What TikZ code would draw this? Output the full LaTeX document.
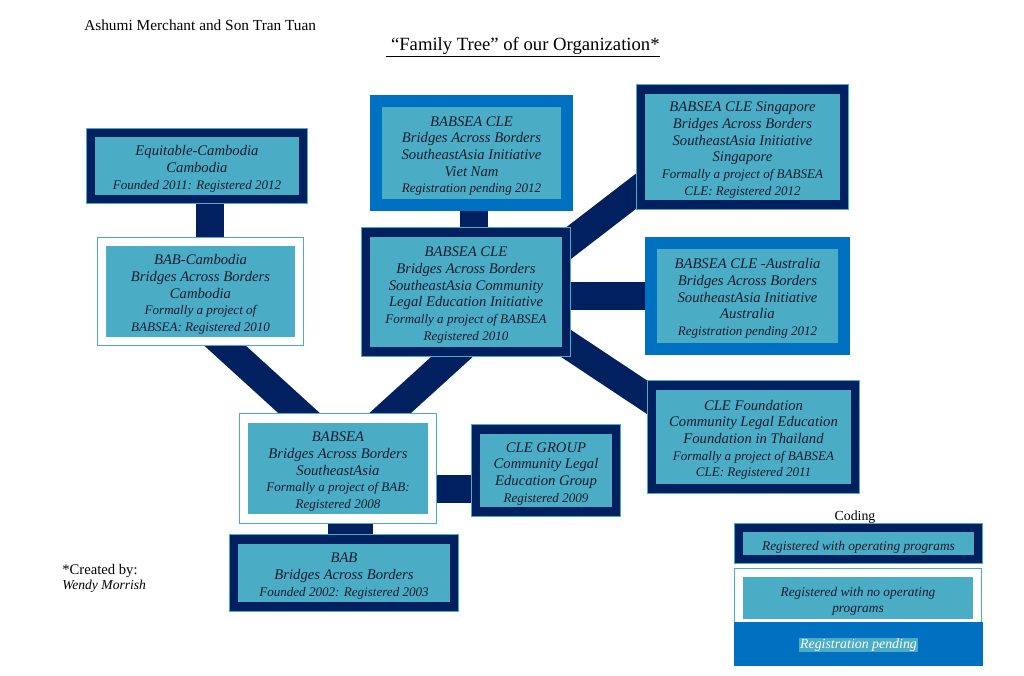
\documentclass[tikz,border=0pt]{standalone}
\usepackage{fontspec}
\setmainfont{Liberation Serif}
\usetikzlibrary{calc,backgrounds}

\definecolor{navy}{RGB}{0,32,96}
\definecolor{midblue}{RGB}{0,112,192}
\definecolor{aqua}{RGB}{75,172,198}
\definecolor{inktext}{RGB}{20,27,45}
\newcommand{\dtl}[1]{{\fontsize{9.8}{12.5}\selectfont #1}}
\newcommand{\padtop}{\rule{0pt}{12pt}}

\begin{document}
\begin{tikzpicture}[x=0.75pt,y=-0.75pt,
        org/.style={fill=aqua,draw=aqua,line width=0.9pt,double distance=6.4pt,inner sep=0pt,
            align=center,text=inktext,font=\fontsize{11}{12.5}\selectfont\itshape},
        regbox/.style={org,double=navy},
        nobox/.style={org,double=white},
        pendbox/.style={org,draw=midblue,double=midblue,double distance=7.2pt},
        linkbar/.style={draw=navy,line width=21pt},
        widebar/.style={draw=navy,line width=33.75pt},
        legfont/.style={font=\fontsize{10}{12}\selectfont\itshape}]
        \useasboundingbox (0,0) rectangle (1024,675);

        % heading
        \node[anchor=west,inner sep=0pt,font=\fontsize{11.5}{14}\selectfont] (authors) at (84,25) {Ashumi Merchant and Son Tran Tuan};
        \node[font=\fontsize{14}{16}\selectfont] (title) at (523,47) {\underline{\ “Family Tree” of our Organization*}};

        % organisations
        \node[regbox,minimum width=159pt,minimum height=49.5pt] (equit) at (197,166)
            {\padtop Equitable-Cambodia\\Cambodia\\\dtl{Founded 2011: Registered 2012}};
        \node[nobox,minimum width=147.75pt,minimum height=74.25pt] (babcam) at (200.5,291.5)
            {\padtop BAB-Cambodia\\Bridges Across Borders\\Cambodia\\\dtl{Formally a project of}\\\dtl{BABSEA: Registered 2010}};
        \node[pendbox,minimum width=143.25pt,minimum height=78pt] (vietnam) at (471.5,153)
            {\padtop BABSEA CLE\\Bridges Across Borders\\SoutheastAsia Initiative\\Viet Nam\\\dtl{Registration pending 2012}};
        \node[regbox,minimum width=150pt,minimum height=89.25pt] (main) at (466,292)
            {\padtop BABSEA CLE\\Bridges Across Borders\\SoutheastAsia Community\\Legal Education Initiative\\\dtl{Formally a project of BABSEA}\\\dtl{Registered 2010}};
        \node[regbox,minimum width=152.25pt,minimum height=86.25pt] (sing) at (742.5,147)
            {\padtop BABSEA CLE Singapore\\Bridges Across Borders\\SoutheastAsia Initiative\\Singapore\\\dtl{Formally a project of BABSEA}\\\dtl{CLE: Registered 2012}};
        \node[pendbox,minimum width=144.75pt,minimum height=79.5pt] (austr) at (747.5,295.5)
            {\padtop BABSEA CLE -Australia\\Bridges Across Borders\\SoutheastAsia Initiative\\Australia\\\dtl{Registration pending 2012}};
        \node[regbox,minimum width=152.25pt,minimum height=77.25pt] (found) at (753.5,437)
            {\padtop CLE Foundation\\Community Legal Education\\Foundation in Thailand\\\dtl{Formally a project of BABSEA}\\\dtl{CLE: Registered 2011}};
        \node[nobox,minimum width=141pt,minimum height=75pt] (babsea) at (338,468.5)
            {\padtop BABSEA\\Bridges Across Borders\\SoutheastAsia\\\dtl{Formally a project of BAB:}\\\dtl{Registered 2008}};
        \node[regbox,minimum width=105pt,minimum height=61.5pt] (clegroup) at (546,470.5)
            {\padtop CLE GROUP\\Community Legal\\Education Group\\\dtl{Registered 2009}};
        \node[regbox,minimum width=165pt,minimum height=50.25pt] (bab) at (344,573)
            {\padtop BAB\\Bridges Across Borders\\\dtl{Founded 2002: Registered 2003}};

        % links
        \begin{scope}[on background layer]
            \coordinate (eb) at ($(equit.south)+(13,0)$);
            \draw[linkbar] (eb) -- (eb |- babcam.north);
            \draw[linkbar] ($(babcam.south)+(2.5,-16)$) -- ($(babsea.north)+(-9.5,22)$);
            \draw[linkbar] ($(main.south)+(14.3,-21)$) -- ($(babsea.north)+(22.6,22)$);
            \coordinate (sb) at ($(babsea.south)+(12.5,0)$);
            \draw[widebar] (sb) -- (sb |- bab.north);
            \coordinate (sc) at ($(babsea.east)+(0,20)$);
            \draw[linkbar] (sc) -- (sc -| clegroup.west);
            \coordinate (vm) at ($(vietnam.south)+(2.5,0)$);
            \draw[linkbar] (vm) -- (vm |- main.north);
            \coordinate (ma) at ($(main.east)+(0,3.5)$);
            \draw[linkbar] (ma) -- (ma -| austr.west);
            \draw[linkbar] ($(main.east)+(-21,-31.2)$) -- ($(sing.west)+(19,26.2)$);
            \draw[linkbar] ($(main.east)+(-21,37.9)$) -- ($(found.west)+(18,-24.9)$);
        \end{scope}

        % coding key
        \node[font=\fontsize{10.4}{12}\selectfont] (coding) at (855,517) {Coding};
        \node[regbox,legfont,minimum width=179.25pt,minimum height=23.25pt] (leg1) at (858.5,543.5)
            {\padtop Registered with operating programs};
        \node[nobox,legfont,minimum width=178.5pt,minimum height=37.5pt] (leg2) at (858,598)
            {\padtop Registered with no operating\\programs};
        \node[fill=midblue,inner sep=0pt,minimum width=186.75pt,minimum height=33pt] (leg3) at (858.5,644) {};
        \node[fill=aqua,text=white,inner sep=0.6pt,font=\fontsize{10.4}{12}\selectfont\itshape] (pending) at ([yshift=-1pt]leg3)
            {Registration pending};

        % credit
        \node[anchor=west,align=left,inner sep=0pt,font=\fontsize{11}{11.5}\selectfont] (credit) at (62,578.5)
            {*Created by:\\{\fontsize{10.2}{11.5}\selectfont\itshape Wendy Morrish}};
\end{tikzpicture}
\end{document}
